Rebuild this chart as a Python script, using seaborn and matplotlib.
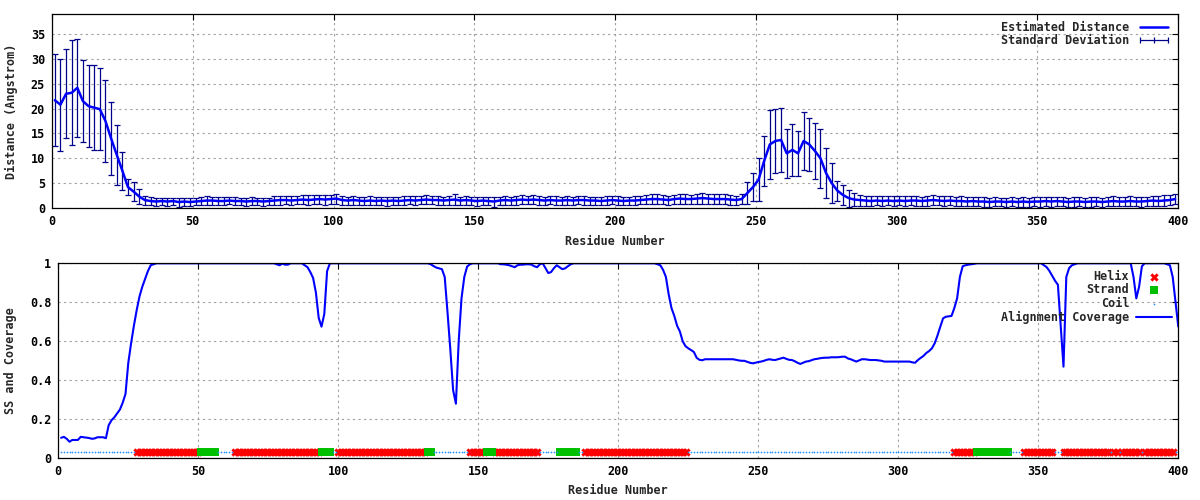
import pandas as pd
import matplotlib.pyplot as plt
import seaborn as sns
from matplotlib.lines import Line2D

# distance estimate, sampled every 2nd residue
DIST_RESIDUES = list(range(1, 400, 2))
DISTANCE = [
    21.7, 20.8, 23.0, 23.2, 24.2, 21.5, 20.5, 20.2, 19.9, 17.5,
    14.0, 10.7, 7.5, 4.2, 3.3, 2.3, 1.6, 1.4, 1.3, 1.4,
    1.3, 1.4, 1.2, 1.3, 1.2, 1.3, 1.4, 1.5, 1.5, 1.4,
    1.4, 1.5, 1.4, 1.4, 1.3, 1.4, 1.4, 1.3, 1.4, 1.5,
    1.6, 1.6, 1.5, 1.6, 1.7, 1.6, 1.7, 1.8, 1.7, 1.8,
    1.9, 1.6, 1.5, 1.6, 1.5, 1.4, 1.5, 1.4, 1.5, 1.4,
    1.5, 1.4, 1.5, 1.6, 1.5, 1.6, 1.7, 1.6, 1.6, 1.5,
    1.6, 1.7, 1.5, 1.6, 1.5, 1.4, 1.5, 1.4, 1.3, 1.5,
    1.6, 1.5, 1.6, 1.7, 1.6, 1.7, 1.6, 1.5, 1.6, 1.5,
    1.5, 1.6, 1.5, 1.6, 1.6, 1.5, 1.5, 1.4, 1.5, 1.6,
    1.5, 1.4, 1.5, 1.5, 1.6, 1.7, 1.8, 1.8, 1.7, 1.6,
    1.8, 1.9, 1.8, 1.8, 1.9, 2.0, 1.9, 1.8, 1.8, 1.8,
    1.7, 1.6, 1.8, 3.0, 4.2, 5.7, 9.5, 12.8, 13.5, 13.7,
    11.0, 11.7, 11.0, 13.5, 12.8, 11.5, 10.0, 7.0, 5.0, 3.5,
    2.6, 2.0, 1.7, 1.6, 1.5, 1.4, 1.5, 1.4, 1.5, 1.4,
    1.5, 1.4, 1.5, 1.5, 1.4, 1.5, 1.6, 1.5, 1.4, 1.5,
    1.4, 1.4, 1.3, 1.4, 1.3, 1.3, 1.2, 1.3, 1.3, 1.2,
    1.3, 1.2, 1.3, 1.2, 1.3, 1.3, 1.4, 1.3, 1.4, 1.3,
    1.2, 1.3, 1.3, 1.2, 1.3, 1.3, 1.2, 1.3, 1.4, 1.3,
    1.3, 1.4, 1.3, 1.3, 1.4, 1.5, 1.4, 1.5, 1.6, 1.8,
]
STD_DEV = [
    9.3, 9.3, 9.0, 10.6, 9.9, 8.3, 8.3, 8.5, 8.3, 8.3,
    7.4, 6.0, 3.8, 1.6, 1.9, 1.5, 0.9, 0.8, 0.8, 0.7,
    0.8, 0.7, 0.9, 0.8, 0.8, 0.7, 0.8, 0.9, 0.8, 0.8,
    0.8, 0.7, 0.8, 0.7, 0.8, 0.8, 0.7, 0.8, 0.7, 0.9,
    0.9, 0.8, 0.9, 0.8, 0.9, 1.0, 0.9, 0.9, 1.0, 0.9,
    1.0, 0.9, 0.8, 0.9, 0.8, 0.8, 0.9, 0.8, 0.8, 0.9,
    0.8, 0.8, 0.9, 0.8, 0.9, 0.8, 0.9, 0.8, 0.9, 0.8,
    0.9, 1.1, 0.8, 0.9, 0.8, 0.9, 0.8, 0.8, 1.0, 0.8,
    0.9, 0.8, 0.9, 0.9, 0.8, 0.9, 0.9, 0.8, 0.8, 0.9,
    0.8, 0.9, 0.8, 0.8, 0.9, 0.8, 0.8, 0.8, 0.9, 0.8,
    0.9, 0.8, 0.8, 0.9, 0.8, 0.9, 1.0, 1.0, 0.9, 0.9,
    0.9, 1.0, 1.0, 0.9, 1.0, 1.1, 1.0, 1.0, 1.0, 1.0,
    1.0, 0.9, 1.0, 2.2, 2.8, 4.3, 5.0, 7.0, 6.5, 6.4,
    5.0, 5.3, 4.6, 5.8, 5.3, 5.6, 6.0, 5.0, 4.0, 2.0,
    2.0, 1.7, 1.3, 1.1, 1.0, 1.0, 0.9, 1.0, 0.9, 1.0,
    0.9, 1.0, 0.9, 1.0, 0.9, 1.0, 1.0, 0.9, 1.0, 0.9,
    0.9, 1.0, 0.9, 0.9, 0.9, 1.0, 0.9, 0.9, 0.8, 0.9,
    0.9, 0.9, 1.0, 0.9, 0.9, 1.0, 0.9, 1.0, 0.9, 0.9,
    0.9, 1.0, 0.9, 0.9, 1.0, 0.9, 0.9, 0.9, 1.0, 0.9,
    0.9, 1.0, 0.9, 1.0, 0.9, 1.0, 1.0, 1.1, 1.0, 1.0,
]

# alignment coverage per residue (1..400)
COV_RESIDUES = list(range(1, 401))
COVERAGE = [
    0.105, 0.11, 0.10, 0.085, 0.094, 0.094, 0.094, 0.11, 0.108, 0.106,
    0.104, 0.10, 0.102, 0.108, 0.108, 0.108, 0.103, 0.17, 0.195, 0.21,
    0.23, 0.25, 0.285, 0.33, 0.49, 0.59, 0.68, 0.76, 0.83, 0.88,
    0.92, 0.96, 0.99, 0.995, 1.0, 1.0, 1.0, 1.0, 1.0, 1.0,
    1.0, 1.0, 1.0, 1.0, 1.0, 1.0, 1.0, 1.0, 1.0, 1.0,
    1.0, 1.0, 1.0, 1.0, 1.0, 1.0, 1.0, 1.0, 1.0, 1.0,
    1.0, 1.0, 1.0, 1.0, 1.0, 1.0, 1.0, 1.0, 1.0, 1.0,
    1.0, 1.0, 1.0, 1.0, 1.0, 1.0, 1.0, 0.995, 0.99, 0.998,
    0.993, 0.993, 1.0, 1.0, 1.0, 1.0, 1.0, 0.99, 0.98, 0.955,
    0.925, 0.85, 0.72, 0.675, 0.74, 0.96, 1.0, 1.0, 1.0, 1.0,
    1.0, 1.0, 1.0, 1.0, 1.0, 1.0, 1.0, 1.0, 1.0, 1.0,
    1.0, 1.0, 1.0, 1.0, 1.0, 1.0, 1.0, 1.0, 1.0, 1.0,
    1.0, 1.0, 1.0, 1.0, 1.0, 1.0, 1.0, 1.0, 1.0, 1.0,
    1.0, 1.0, 0.995, 0.986, 0.978, 0.974, 0.97, 0.93, 0.75, 0.56,
    0.35, 0.28, 0.6, 0.82, 0.93, 0.983, 0.995, 1.0, 1.0, 1.0,
    1.0, 1.0, 1.0, 1.0, 1.0, 1.0, 1.0, 0.995, 0.995, 0.993,
    0.99, 0.985, 0.98, 0.99, 0.993, 0.993, 0.995, 0.995, 0.993, 0.985,
    0.98, 0.995, 1.0, 0.975, 0.95, 0.955, 0.975, 0.99, 0.98, 0.97,
    0.974, 0.985, 0.995, 1.0, 1.0, 1.0, 1.0, 1.0, 1.0, 1.0,
    1.0, 1.0, 1.0, 1.0, 1.0, 1.0, 1.0, 1.0, 1.0, 1.0,
    1.0, 1.0, 1.0, 1.0, 1.0, 1.0, 1.0, 1.0, 1.0, 1.0,
    1.0, 1.0, 1.0, 0.995, 0.99, 0.966, 0.93, 0.84, 0.77, 0.73,
    0.68, 0.65, 0.6, 0.575, 0.564, 0.555, 0.545, 0.515, 0.505, 0.503,
    0.508, 0.508, 0.508, 0.508, 0.508, 0.508, 0.508, 0.508, 0.508, 0.508,
    0.508, 0.505, 0.502, 0.50, 0.50, 0.495, 0.49, 0.487, 0.49, 0.494,
    0.496, 0.50, 0.505, 0.508, 0.505, 0.504, 0.508, 0.512, 0.516, 0.51,
    0.505, 0.504, 0.498, 0.49, 0.484, 0.49, 0.496, 0.498, 0.503, 0.508,
    0.51, 0.513, 0.515, 0.516, 0.516, 0.518, 0.518, 0.518, 0.519, 0.521,
    0.521, 0.512, 0.508, 0.502, 0.496, 0.502, 0.508, 0.508, 0.506, 0.504,
    0.504, 0.504, 0.502, 0.50, 0.496, 0.496, 0.496, 0.496, 0.496, 0.496,
    0.496, 0.496, 0.496, 0.496, 0.492, 0.49, 0.504, 0.515, 0.525, 0.54,
    0.55, 0.564, 0.59, 0.63, 0.675, 0.718, 0.726, 0.728, 0.73, 0.77,
    0.82, 0.93, 0.985, 0.99, 0.993, 0.995, 0.997, 1.0, 1.0, 1.0,
    1.0, 1.0, 1.0, 1.0, 1.0, 1.0, 1.0, 1.0, 1.0, 1.0,
    1.0, 1.0, 1.0, 1.0, 1.0, 1.0, 1.0, 1.0, 1.0, 1.0,
    1.0, 0.99, 0.98, 0.96, 0.935, 0.91, 0.89, 0.68, 0.47, 0.93,
    0.975, 0.99, 0.995, 1.0, 1.0, 1.0, 1.0, 1.0, 1.0, 1.0,
    1.0, 1.0, 1.0, 1.0, 1.0, 1.0, 1.0, 1.0, 1.0, 1.0,
    1.0, 1.0, 1.0, 0.93, 0.82, 0.88, 0.985, 1.0, 1.0, 1.0,
    1.0, 1.0, 1.0, 1.0, 1.0, 0.995, 0.99, 0.93, 0.8, 0.675,
]

# secondary structure as (type, run length), H helix / E strand / C coil
SS_RUNS = [
    ("C", 27), ("H", 23), ("E", 6), ("C", 6), ("H", 31), ("E", 4), ("C", 2),
    ("H", 32), ("E", 2), ("C", 13), ("H", 6), ("E", 3), ("H", 16), ("C", 7),
    ("E", 7), ("C", 2), ("H", 37), ("C", 95), ("H", 8), ("E", 12), ("C", 5),
    ("H", 11), ("C", 3), ("H", 17), ("C", 1), ("H", 2), ("C", 1), ("H", 7),
    ("C", 1), ("H", 11), ("C", 2),
]

X_TICKS = [0, 50, 100, 150, 200, 250, 300, 350, 400]
DIST_TICKS = [0, 5, 10, 15, 20, 25, 30, 35]
COV_TICKS = [0, 0.2, 0.4, 0.6, 0.8, 1]
COV_TICK_LABELS = ["0", "0.2", "0.4", "0.6", "0.8", "1"]

SS_LEVEL = 0.03
FS = 8.5

sns.set_style("white")
plt.rcParams["font.family"] = ["DejaVu Sans Mono"]
plt.rcParams["font.weight"] = "bold"
plt.rcParams["axes.labelweight"] = "bold"
plt.rcParams["font.size"] = FS

GRID = dict(color="#a0a0a0", linestyle=(0, (2, 3)), linewidth=0.8)


def style_axes(ax):
    ax.set_xlim(0, 400)
    ax.set_xticks(X_TICKS)
    ax.tick_params(direction="in", length=4, width=0.8, top=True, right=True,
                   colors="black", labelsize=FS, pad=5)
    for s in ax.spines.values():
        s.set_color("black")
        s.set_linewidth(0.9)
    ax.grid(True, **GRID)
    ax.set_axisbelow(True)


fig = plt.figure(figsize=(12, 5), dpi=100)

# top panel: distance with std dev error bars
ax1 = fig.add_axes([52 / 1200, 1 - 208 / 500, 1126 / 1200, 193.7 / 500])
ax1.errorbar(DIST_RESIDUES, DISTANCE, yerr=STD_DEV, fmt="none", ecolor="#00008b",
             elinewidth=0.9, capsize=2.2, capthick=0.9)
sns.lineplot(x=DIST_RESIDUES, y=DISTANCE, color="#0000ff", linewidth=1.8, ax=ax1)
style_axes(ax1)
ax1.set_ylim(0, 39)
ax1.set_yticks(DIST_TICKS)
ax1.set_xlabel("Residue Number", labelpad=5)
ax1.set_ylabel("Distance (Angstrom)", labelpad=9)

h_mean = Line2D([], [], color="#0000ff", linewidth=1.8)
h_sd = Line2D([], [], color="#00008b", linewidth=0.9, marker="|",
              markersize=5, markeredgewidth=0.9)
ax1.legend([h_mean, h_sd], ["Estimated Distance", "Standard Deviation"],
           loc="upper right", frameon=False, markerfirst=False, numpoints=3,
           handlelength=3, handletextpad=0.6, labelspacing=0.05,
           borderaxespad=0.15, fontsize=FS)

# bottom panel: secondary structure and alignment coverage
ax2 = fig.add_axes([58.3 / 1200, 1 - 458.3 / 500, 1120 / 1200, 195 / 500])
ss = "".join(code * n for code, n in SS_RUNS)
df_ss = pd.DataFrame({"residue": COV_RESIDUES, "ss": list(ss)})
df_ss["level"] = SS_LEVEL

sns.scatterplot(data=df_ss[df_ss.ss == "H"], x="residue", y="level", marker="X",
                s=36, color="#ff0000", linewidth=0, ax=ax2, label="Helix")
sns.scatterplot(data=df_ss[df_ss.ss == "E"], x="residue", y="level", marker="s",
                s=32, color="#00c000", linewidth=0, ax=ax2, label="Strand")
sns.scatterplot(data=df_ss[df_ss.ss == "C"], x="residue", y="level", marker="o",
                s=1.5, color="#1e90ff", linewidth=0, ax=ax2, label="Coil")
sns.lineplot(x=COV_RESIDUES, y=COVERAGE, color="#0000ff", linewidth=1.5, ax=ax2,
             label="Alignment Coverage")
style_axes(ax2)
ax2.set_ylim(0, 1)
ax2.set_yticks(COV_TICKS)
ax2.set_yticklabels(COV_TICK_LABELS)
ax2.set_xlabel("Residue Number", labelpad=4)
ax2.set_ylabel("SS and Coverage", labelpad=9)
ax2.legend(loc="upper right", frameon=False, markerfirst=False,
           handlelength=3, handletextpad=0.6, labelspacing=0.05,
           borderaxespad=0.15, fontsize=FS)

fig.savefig("out.png", dpi=100)
